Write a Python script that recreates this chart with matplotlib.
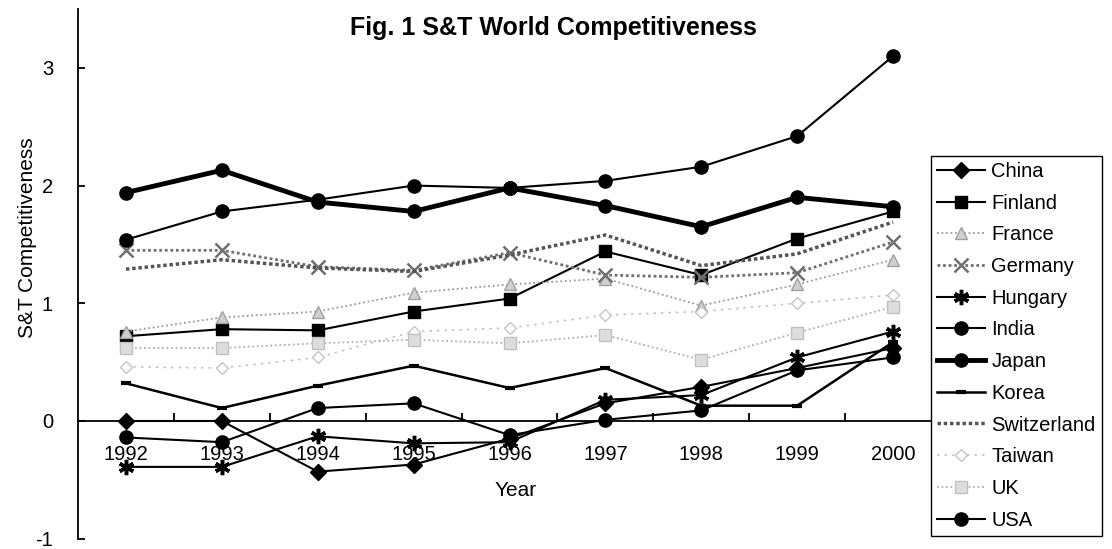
import matplotlib.pyplot as plt

years = ["1992", "1993", "1994", "1995", "1996", "1997", "1998", "1999", "2000"]

china = [0.0, 0.0, -0.43, -0.37, -0.15, 0.15, 0.29, 0.45, 0.62]
finland = [0.72, 0.78, 0.77, 0.93, 1.04, 1.44, 1.24, 1.55, 1.78]
france = [0.76, 0.88, 0.93, 1.09, 1.16, 1.21, 0.98, 1.16, 1.37]
germany = [1.45, 1.45, 1.31, 1.28, 1.43, 1.24, 1.22, 1.26, 1.52]
hungary = [-0.39, -0.39, -0.13, -0.19, -0.18, 0.18, 0.22, 0.54, 0.76]
india = [-0.14, -0.18, 0.11, 0.15, -0.12, 0.01, 0.09, 0.43, 0.54]
japan = [1.94, 2.13, 1.86, 1.78, 1.98, 1.83, 1.65, 1.90, 1.82]
korea = [0.32, 0.11, 0.30, 0.47, 0.28, 0.45, 0.13, 0.13, 0.67]
switzerland = [1.29, 1.37, 1.30, 1.27, 1.41, 1.58, 1.32, 1.42, 1.69]
taiwan = [0.46, 0.45, 0.54, 0.76, 0.79, 0.90, 0.93, 1.00, 1.07]
uk = [0.62, 0.62, 0.66, 0.69, 0.66, 0.73, 0.52, 0.75, 0.97]
usa = [1.54, 1.78, 1.88, 2.00, 1.98, 2.04, 2.16, 2.42, 3.10]

series = [
    ("China", china, dict(color="black", lw=1.5, marker="D", ms=8)),
    ("Finland", finland, dict(color="black", lw=1.5, marker="s", ms=8.5)),
    ("France", france, dict(color="#9a9a9a", lw=1.3, ls=(0, (1, 1.5)), marker="^", ms=8,
                            mfc="#d0d0d0", mec="#a0a0a0")),
    ("Germany", germany, dict(color="#707070", lw=2, ls=(0, (1, 1)), marker="x", ms=10,
                              mew=1.8, mec="#707070")),
    ("Hungary", hungary, dict(color="black", lw=1.5, marker=(6, 2, 0), ms=11, mew=2.5)),
    ("India", india, dict(color="black", lw=1.5, marker="o", ms=9.5)),
    ("Japan", japan, dict(color="black", lw=3.5, marker="o", ms=9.5)),
    ("Korea", korea, dict(color="black", lw=1.8, marker="_", ms=7, mew=3)),
    ("Switzerland", switzerland, dict(color="#555555", lw=2.5, ls=(0, (1, 0.8)))),
    ("Taiwan", taiwan, dict(color="#c4c4c4", lw=1.2, ls=(0, (1.5, 3)), marker="D", ms=6,
                            mfc="white", mec="#c4c4c4")),
    ("UK", uk, dict(color="#b0b0b0", lw=1.3, ls=(0, (1, 1.5)), marker="s", ms=8,
                    mfc="#dddddd", mec="#c0c0c0")),
    ("USA", usa, dict(color="black", lw=1.5, marker="o", ms=9.5)),
]

plt.rcParams["font.family"] = ["Liberation Sans", "DejaVu Sans"]

fig = plt.figure(figsize=(11.12, 5.49), dpi=100)
ax = fig.add_axes([78 / 1112, 1 - 538.7 / 549, 863 / 1112, 529.7 / 549])

x = list(range(len(years)))
handles = []
for name, vals, style in series:
    (ln,) = ax.plot(x, vals, label=name, **style)
    handles.append(ln)

ax.set_xlim(-0.5, len(years) - 0.5)
ax.set_ylim(-1, 3.5)

ax.spines["top"].set_visible(False)
ax.spines["right"].set_visible(False)
ax.spines["bottom"].set_position(("data", 0))
ax.spines["bottom"].set_linewidth(1.3)
ax.spines["left"].set_linewidth(1.3)

ax.set_xticks([i + 0.5 for i in range(len(years) - 1)])
ax.set_xticklabels([])
ax.set_xticks(x, minor=True)
ax.set_xticklabels(years, minor=True)
ax.tick_params(axis="x", which="major", direction="in", length=6, width=1.3)
ax.tick_params(axis="x", which="minor", length=0, pad=17, labelsize=14.5)

ax.set_yticks([-1, 0, 1, 2, 3])
ax.set_yticklabels(["-1", "0", "1", "2", "3"])
ax.tick_params(axis="y", direction="in", length=5, width=1.3, pad=18, labelsize=14.5)

fig.text(553 / 1112, 1 - 28 / 549, "Fig. 1 S&T World Competitiveness",
         ha="center", va="center", fontsize=18, fontweight="bold")
fig.text(516 / 1112, 1 - 490 / 549, "Year", ha="center", va="center", fontsize=15)
fig.text(28 / 1112, 1 - 238 / 549, "S&T Competitiveness", ha="center", va="center",
         rotation=90, fontsize=15)

fig.legend(handles, [h.get_label() for h in handles], loc="upper left",
           bbox_to_anchor=(931 / 1112, 1 - 156 / 549), frameon=True, fancybox=False,
           edgecolor="black", framealpha=1, fontsize=14.5, handlelength=2.4,
           handletextpad=0.3, labelspacing=0.63, borderpad=0.3, borderaxespad=0)

fig.savefig("out.png", dpi=100)
plt.close(fig)
